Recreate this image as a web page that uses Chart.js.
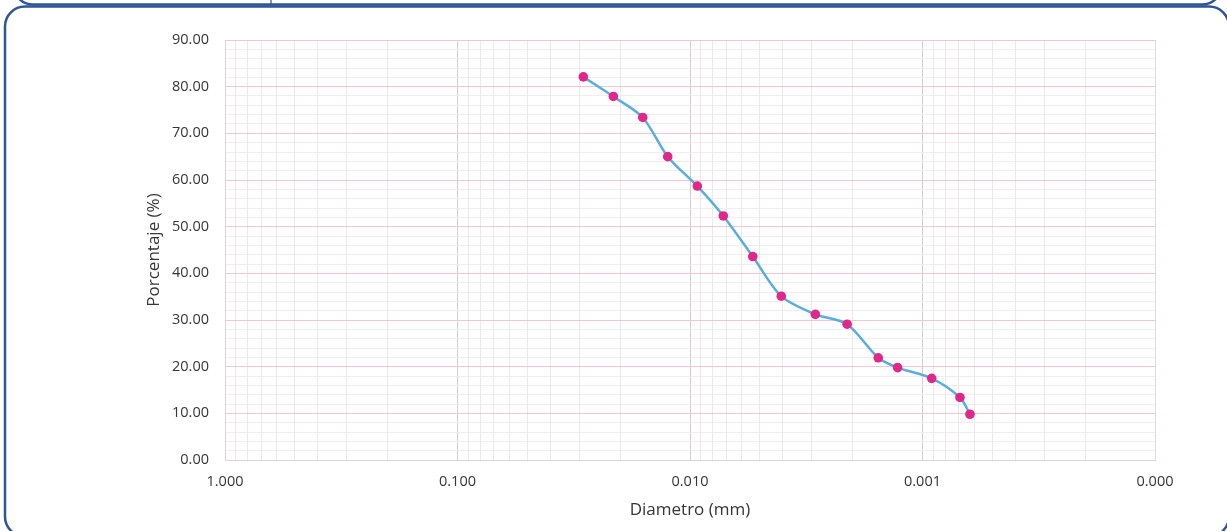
<!DOCTYPE html>
<html>
<head>
<meta charset="utf-8">
<script src="https://cdn.jsdelivr.net/npm/chart.js@4/dist/chart.umd.min.js"></script>
<style>
  html, body { margin: 0; padding: 0; background: #ffffff; }
  #wrap { position: relative; width: 1227px; height: 531px; overflow: hidden; background: #ffffff; }
  #c { position: absolute; left: 0; top: 0; }
  #frame { position: absolute; left: 0; top: 0; pointer-events: none; }
</style>
</head>
<body>
<div id="wrap">
  <canvas id="c" width="1227" height="531"></canvas>
  <svg id="frame" width="1227" height="531">
    <rect x="13" y="-40" width="1209" height="44.5" rx="20" ry="20" fill="none" stroke="#2f5597" stroke-width="2.5"/>
    <line x1="271" y1="0" x2="271" y2="4.5" stroke="#2f5597" stroke-width="1.2"/>
    <rect x="5" y="6.5" width="1224" height="530" rx="20" ry="20" fill="none" stroke="#2f5597" stroke-width="2.5"/>
  </svg>
</div>
<script>
// ---- data ----
const diametersMm = [0.02876, 0.02137, 0.01597, 0.01247, 0.00930, 0.00719, 0.00537, 0.00405,
                     0.00289, 0.00211, 0.00155, 0.00128, 0.000913, 0.000690, 0.000625];
const percentPassing = [82.1, 77.9, 73.4, 65.0, 58.7, 52.3, 43.6, 35.1,
                        31.2, 29.1, 21.9, 19.8, 17.5, 13.4, 9.8];
const xDecadeTicks = [1, 0.1, 0.01, 0.001, 0.0001];
const yMajorTicks = [0, 10, 20, 30, 40, 50, 60, 70, 80, 90];
const xAxisTitle = 'Diametro (mm)';
const yAxisTitle = 'Porcentaje (%)';

const FONT = "'Open Sans', 'Liberation Sans', sans-serif";
Chart.defaults.font.family = FONT;
Chart.defaults.color = '#363636';

const isDecade = v => Math.abs(Math.log10(v) - Math.round(Math.log10(v))) < 1e-9;
const isMajorY = v => yMajorTicks.includes(Math.round(v * 1000) / 1000);

const whiteBg = {
  id: 'whiteBg',
  beforeDraw(chart) {
    const ctx = chart.ctx;
    ctx.save();
    ctx.fillStyle = '#ffffff';
    ctx.fillRect(0, 0, chart.width, chart.height);
    ctx.restore();
  }
};

new Chart(document.getElementById('c'), {
  type: 'scatter',
  data: {
    datasets: [{
      data: diametersMm.map((d, i) => ({ x: d, y: percentPassing[i] })),
      showLine: true,
      tension: 0.3,
      borderColor: '#5aaedc',
      borderWidth: 2.5,
      pointBackgroundColor: '#e0288a',
      pointBorderColor: '#e0288a',
      pointRadius: 4.8,
      pointBorderWidth: 0
    }]
  },
  options: {
    responsive: false,
    animation: false,
    devicePixelRatio: 1,
    layout: { padding: { left: 140, right: 72, top: 40, bottom: 7 } },
    plugins: { legend: { display: false }, tooltip: { enabled: false } },
    scales: {
      x: {
        type: 'logarithmic',
        reverse: true,
        min: 0.0001,
        max: 1,
        afterBuildTicks(scale) {
          const ticks = [];
          for (let i = 0; i < xDecadeTicks.length - 1; i++) {
            const base = xDecadeTicks[i + 1];
            for (let k = 1; k <= 9; k++) ticks.push({ value: +(base * k).toPrecision(6) });
          }
          ticks.push({ value: xDecadeTicks[0] });
          scale.ticks = ticks;
        },
        afterFit(scale) { scale.height = 64; },
        ticks: {
          autoSkip: false,
          maxRotation: 0,
          minRotation: 0,
          padding: 13,
          font: { size: 14.5 },
          callback: (v) => isDecade(v) ? Number(v).toFixed(3) : ''
        },
        grid: {
          drawTicks: false,
          color: (ctx) => {
            const v = ctx.tick && ctx.tick.value;
            if (v === 0.0001) return '#e2dadb';
            return isDecade(v) ? '#d3cdce' : '#eee8e9';
          },
          lineWidth: 1
        },
        border: { display: true, color: '#ddd5d6', width: 1 },
        title: {
          display: true,
          text: xAxisTitle,
          font: { size: 17 },
          padding: { top: 4, bottom: 4 }
        }
      },
      y: {
        min: 0,
        max: 90,
        afterBuildTicks(scale) {
          const ticks = [];
          for (let v = 0; v <= 90; v += 2) ticks.push({ value: v });
          scale.ticks = ticks;
        },
        afterFit(scale) { scale.width = 85; },
        ticks: {
          autoSkip: false,
          padding: 16,
          font: { size: 14.5 },
          callback: (v) => isMajorY(v) ? Number(v).toFixed(2) : ''
        },
        grid: {
          drawTicks: false,
          color: (ctx) => {
            const v = ctx.tick && ctx.tick.value;
            if (v === 0) return '#d9d2d3';
            return isMajorY(v) ? '#efc9d1' : '#f3ebec';
          },
          lineWidth: 1
        },
        border: { display: true, color: '#ddd5d6', width: 1 },
        title: {
          display: true,
          text: yAxisTitle,
          font: { size: 17 },
          padding: { top: 4, bottom: 4 }
        }
      }
    }
  },
  plugins: [whiteBg]
});
</script>
</body>
</html>
